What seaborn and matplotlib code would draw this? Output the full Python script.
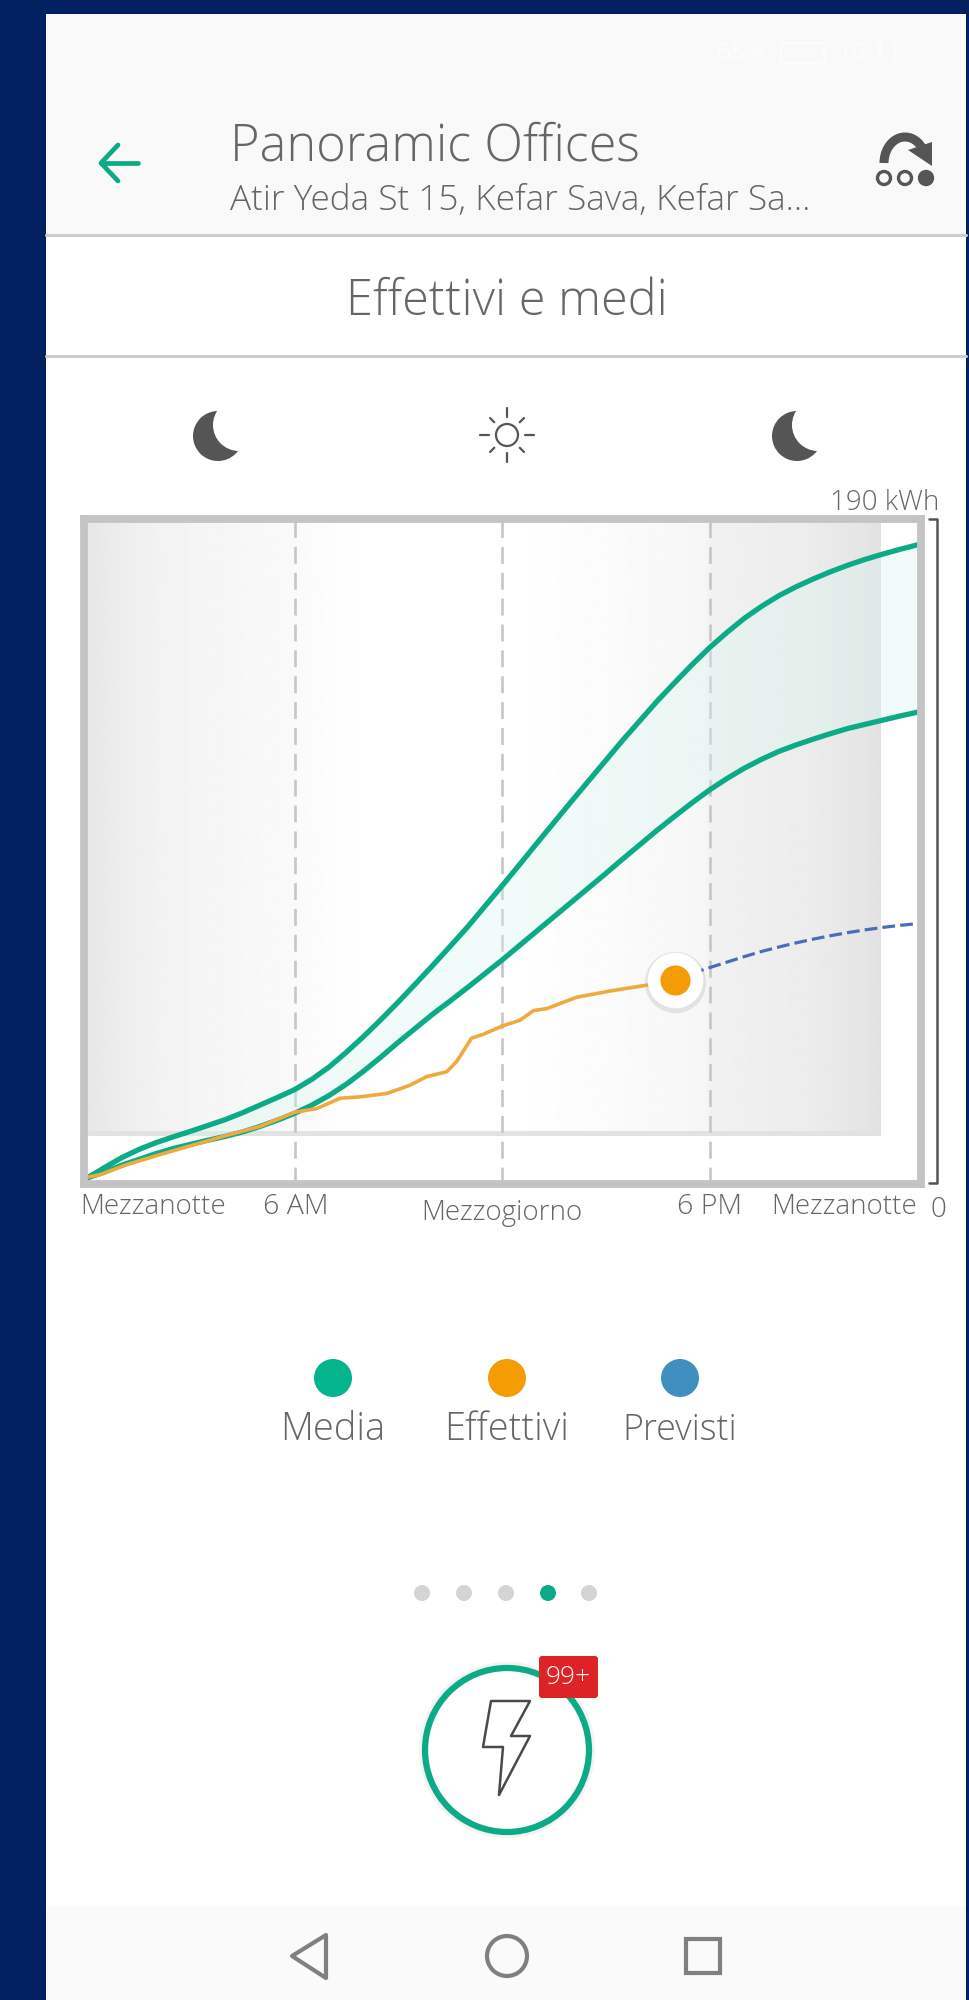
import numpy as np
import pandas as pd
import matplotlib
matplotlib.use("Agg")
import matplotlib.pyplot as plt
from matplotlib.patches import Circle, Rectangle, Polygon, FancyBboxPatch, Arc
import seaborn as sns

W, H = 969, 2000

# Cumulative consumption over the day, hours against kWh
band_hours = [0, 0.5, 1, 1.5, 2, 2.5, 3, 3.5, 4, 4.5, 5, 5.5, 6, 6.5, 7, 7.5, 8, 8.5, 9, 9.5, 10, 10.5, 11, 11.5, 12,
              12.5, 13, 13.5, 14, 14.5, 15, 15.5, 16, 16.5, 17, 17.5, 18, 18.5, 19, 19.5, 20, 20.5, 21, 21.5, 22, 22.5, 23, 23.5, 24]
upper_kwh = [0, 3, 5.9, 8.3, 10.3, 12, 13.6, 15.3, 17, 19, 21.2, 23.4, 25.7, 28.7, 32.3, 36.6, 41.2, 46.1, 51.2, 56.5, 61.9,
             67.4, 73, 79, 85, 91.1, 97.3, 103.4, 109.5, 115.5, 121.5, 127.5, 133.2, 138.9, 144.2, 149.4, 154.3, 158.7, 162.8,
             166.3, 169.4, 172, 174.3, 176.4, 178.3, 180, 181.5, 182.9, 184.2]
lower_kwh = [0, 1.7, 3.7, 5.4, 7.1, 8.6, 9.8, 11, 12.1, 13.4, 15, 16.8, 18.8, 21.2, 24, 27.3, 31.1, 35.2, 39.5, 43.6, 47.7,
             51.5, 55.4, 59.4, 63.4, 67.6, 71.8, 76, 80.2, 84.4, 88.6, 92.9, 97.1, 101.3, 105.3, 109.2, 112.9, 116.2, 119.2,
             121.8, 124.1, 126, 127.7, 129.3, 130.8, 132, 133.2, 134.4, 135.5]
actual_hours = [0, 0.38, 1.15, 2.11, 3.07, 4.04, 5, 6, 6.64, 7.32, 7.89, 8.67, 9.34, 9.82, 10.4, 10.69, 11.12, 11.46, 12,
                12.52, 12.91, 13.3, 14.16, 15.12, 16.18, 17]
actual_kwh = [0.2, 1, 3.9, 6.8, 9.6, 12.4, 15, 19.1, 20.2, 23.2, 23.6, 24.6, 27, 29.5, 30.9, 33.9, 40.7, 41.8, 44.2,
              45.9, 48.7, 49.3, 52.6, 54.4, 56.1, 57.5]
forecast_hours = [17, 17.5, 18, 18.5, 19, 19.5, 20, 20.5, 21, 21.5, 22, 22.5, 23, 23.5, 24]
forecast_kwh = [57.5, 59.5, 61.2, 62.8, 64.4, 65.9, 67.2, 68.4, 69.5, 70.5, 71.4, 72.2, 72.9, 73.5, 74]

tick_hours = [6, 12, 18]
legend_labels = ["Media", "Effettivi", "Previsti"]
legend_colors = ["#03b48c", "#f59c05", "#3f8fc0"]
legend_sizes = [27.4, 27.4, 25.8]

TEAL = "#0cab88"
TEXT = "#666666"
DARK = "#555555"

sns.set_theme(style="white")
plt.rcParams["font.family"] = ["Open Sans", "DejaVu Sans"]

fig = plt.figure(figsize=(W / 100, H / 100), dpi=100, facecolor="#002060")

# Screen furniture lives in a pixel-addressed layer
ui = fig.add_axes([0, 0, 1, 1], zorder=0)
ui.set_xlim(0, W)
ui.set_ylim(H, 0)
ui.axis("off")

ui.add_patch(Rectangle((46, 14), 920, 1986, fc="white", ec="none"))
ui.add_patch(Rectangle((46, 14), 920, 220, fc="#f9f9f9", ec="none"))
ui.add_patch(Rectangle((46, 1906), 920, 94, fc="#fafafa", ec="none"))
ui.plot([46, 966], [235, 235], color="#cccccc", lw=2.2)
ui.plot([46, 966], [356, 356], color="#cccccc", lw=2.2)

# Status bar, barely lighter than the pale header
ui.text(741, 53, "68%", fontsize=18, color="#fdfdfd", ha="center", va="center")
ui.add_patch(Rectangle((781, 43), 43, 20, fc="none", ec="#fdfdfd", lw=1.2))
ui.text(870, 53, "16:11", fontsize=18, color="#fdfdfd", ha="center", va="center")

ui.text(230, 147, "Panoramic Offices", fontsize=36.4, color=TEXT, va="center", weight="light")
ui.text(230, 201, "Atir Yeda St 15, Kefar Sava, Kefar Sa...", fontsize=25.4, color=TEXT, va="center", weight="light")
ui.text(507, 302, "Effettivi e medi", fontsize=35, color=TEXT, va="center", ha="center", weight="light")

# Back arrow
ui.plot([101, 138], [163, 163], color=TEAL, lw=3.4)
ui.plot([118, 101, 118], [145, 163, 181], color=TEAL, lw=3.4)

# Overflow icon
ui.add_patch(Arc((905, 163), 42, 52, theta1=180, theta2=320, color=DARK, lw=6.5))
ui.add_patch(Polygon([[908, 150], [932, 142], [932, 166]], fc=DARK, ec="none"))
for cx, fill in [(884, False), (905, False), (926, True)]:
    ui.add_patch(Circle((cx, 178), 6.5, fc=DARK if fill else "#f9f9f9", ec=DARK, lw=2.4))


def moon(cx, cy):
    ui.add_patch(Circle((cx, cy), 25, fc=DARK, ec="none"))
    ui.add_patch(Circle((cx + 21, cy - 11), 26, fc="white", ec="none"))


moon(218, 436)
moon(797, 436)

# Sun
ui.add_patch(Circle((507, 435), 11, fc="white", ec=DARK, lw=1.6))
for deg in [0, 45, 90, 135, 180, 225, 270, 315]:
    ang = np.deg2rad(deg)
    inner, outer = (18, 27) if deg % 90 == 0 else (18, 24)
    ui.plot([507 + inner * np.cos(ang), 507 + outer * np.cos(ang)],
            [435 + inner * np.sin(ang), 435 + outer * np.sin(ang)], color=DARK, lw=1.6)

# Axis captions
ui.text(939, 503, "190 kWh", fontsize=20, color=TEXT, ha="right", va="center", weight="light")
ui.text(946, 1210, "0", fontsize=20, color=TEXT, ha="right", va="center", weight="light")
ui.text(80, 1207, "Mezzanotte", fontsize=20, color=TEXT, va="center", weight="light")
ui.text(296, 1207, "6 AM", fontsize=20.5, color=TEXT, ha="center", va="center", weight="light")
ui.text(502, 1213, "Mezzogiorno", fontsize=20, color=TEXT, ha="center", va="center", weight="light")
ui.text(710, 1207, "6 PM", fontsize=20.5, color=TEXT, ha="center", va="center", weight="light")
ui.text(917, 1207, "Mezzanotte", fontsize=20, color=TEXT, ha="right", va="center", weight="light")

# Scale bracket
ui.plot([929, 937, 937, 929], [519, 519, 1183, 1183], color="#555555", lw=1.8)

# Legend
for cx, label, col, size in zip([333, 507, 680], legend_labels, legend_colors, legend_sizes):
    ui.add_patch(Circle((cx, 1378), 19, fc=col, ec="none"))
    ui.text(cx, 1430, label, fontsize=size, color=TEXT, ha="center", va="center", weight="light")

# Pager
for i, cx in enumerate([422, 464, 506, 548, 589]):
    ui.add_patch(Circle((cx, 1593), 8, fc=TEAL if i == 3 else "#d4d4d4", ec="none"))

# Energy button with badge
ui.add_patch(Circle((507, 1750), 88, fc="#dddddd", ec="none", alpha=0.35))
ui.add_patch(Circle((507, 1750), 82, fc="white", ec=TEAL, lw=4.5))
ui.add_patch(Polygon([[491, 1701], [530, 1701], [511, 1736], [530, 1736], [499, 1795], [503, 1747], [483, 1747]],
                     closed=True, fc="white", ec="#4a4a4a", lw=1.8, joinstyle="round"))
ui.add_patch(FancyBboxPatch((539, 1656), 59, 42, boxstyle="round,pad=0,rounding_size=3", fc="#dd2326", ec="none"))
ui.text(568.5, 1677, "99+", fontsize=19, color="white", ha="center", va="center", weight="light")

# Navigation bar
ui.add_patch(Polygon([[292, 1956], [326, 1935], [326, 1978]], closed=True, fc="none", ec="#808080", lw=3, joinstyle="round"))
ui.add_patch(Circle((507, 1956), 20, fc="none", ec="#808080", lw=3))
ui.add_patch(Rectangle((686, 1939), 34, 34, fc="none", ec="#808080", lw=3))

# Chart area, frame centred on its own edge
px_left, px_right, px_top, px_bottom = 84, 920.5, 519.5, 1183.5
px_per_hour = (917 - 87) / 24
px_per_kwh = (1178 - 525) / 190
ax = fig.add_axes([px_left / W, 1 - px_bottom / H, (px_right - px_left) / W, (px_bottom - px_top) / H], zorder=1)
xlim = ((px_left - 87) / px_per_hour, (px_right - 87) / px_per_hour)
ylim = ((1178 - px_bottom) / px_per_kwh, (1178 - px_top) / px_per_kwh)
ax.set_facecolor("white")
ax.set_xticks([])
ax.set_yticks([])
for s in ax.spines.values():
    s.set_color("#c4c4c4")
    s.set_linewidth(5.6)
    s.set_zorder(6)

# Night shading, fading to white through the day
band_right = (878 - 87) / px_per_hour
band_floor = (1178 - 1132.5) / px_per_kwh
stops_x = [0, 1, 2, 4, 6, 7.5, 9, 12, 15, 17.9, 18.1, 21, band_right]
stops_v = [0.905, 0.93, 0.95, 0.965, 0.98, 0.995, 1.0, 1.0, 0.985, 0.965, 0.945, 0.925, 0.89]
grad = np.interp(np.linspace(0, band_right, 600), stops_x, stops_v)[None, :]
ax.imshow(grad, extent=[0, band_right, band_floor, ylim[1]], cmap="gray", vmin=0, vmax=1,
          aspect="auto", zorder=0, interpolation="bilinear")
ax.plot([0, band_right, band_right], [band_floor, band_floor, ylim[1]], color="#e2e2e2", lw=3.6, zorder=1,
        solid_joinstyle="miter")

for h in tick_hours:
    ax.axvline(h, color="#c6c6c6", lw=1.9, ls=(0, (6.4, 3.4)), zorder=2)

ax.fill_between(band_hours, lower_kwh, upper_kwh, color="#d8f6ef", alpha=0.35, lw=0, zorder=2.5)

curves = pd.DataFrame({"hour": band_hours, "upper": upper_kwh, "lower": lower_kwh})
sns.lineplot(data=curves, x="hour", y="upper", color=TEAL, lw=3.8, ax=ax, zorder=3, estimator=None)
sns.lineplot(data=curves, x="hour", y="lower", color=TEAL, lw=3.8, ax=ax, zorder=3, estimator=None)
sns.lineplot(x=actual_hours, y=actual_kwh, color="#efaa3e", lw=2.6, ax=ax, zorder=4, estimator=None)
sns.lineplot(x=forecast_hours, y=forecast_kwh, color="#4b6cb7", lw=2.3, ax=ax, zorder=3, estimator=None,
             linestyle=(0, (4, 1.6)))

# Current reading
ax.scatter([actual_hours[-1]], [actual_kwh[-1] - 0.6], s=1950, color="#999999", alpha=0.22, lw=0, zorder=4.5)
ax.scatter([actual_hours[-1]], [actual_kwh[-1]], s=1600, color="white", lw=0, zorder=5)
ax.scatter([actual_hours[-1]], [actual_kwh[-1]], s=470, color="#f39c05", lw=0, zorder=5.5)

ax.set_xlim(*xlim)
ax.set_ylim(*ylim)
ax.set_xlabel("")
ax.set_ylabel("")

fig.savefig("out.png", dpi=100, facecolor=fig.get_facecolor())
